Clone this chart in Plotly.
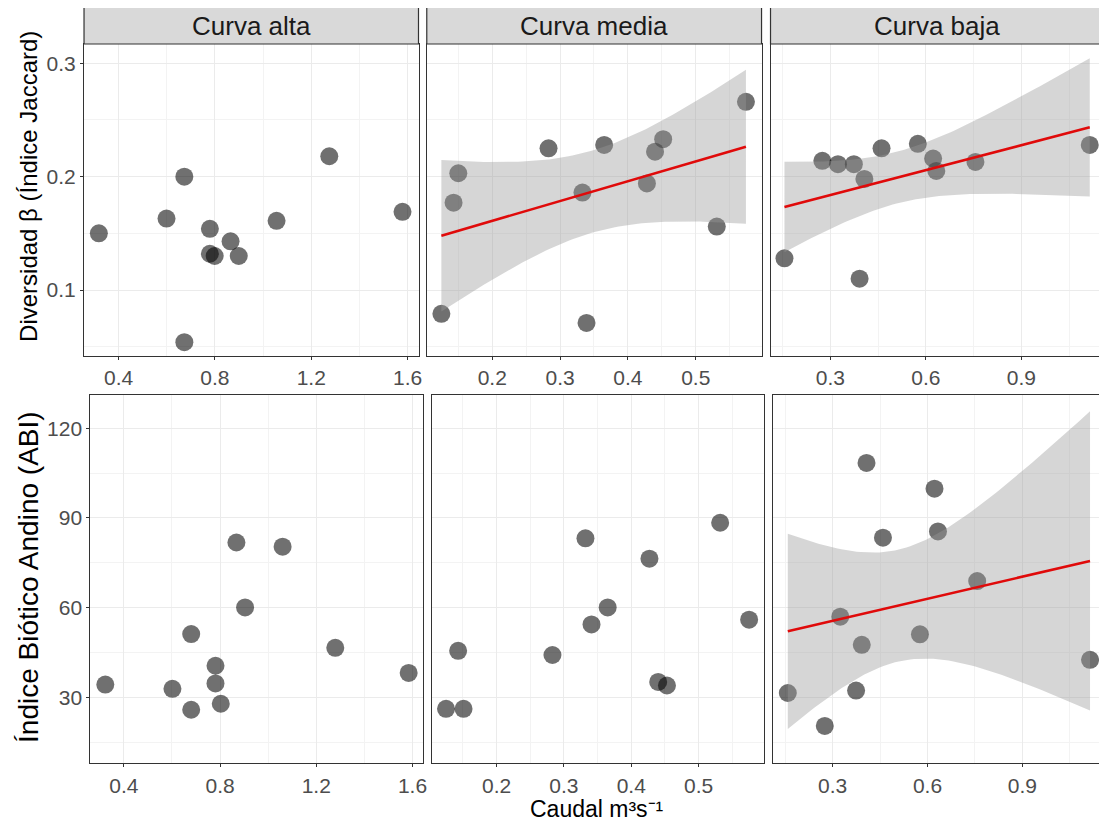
import numpy as np
import plotly.graph_objects as go

# ---------------- data ----------------
curvas = ["Curva alta", "Curva media", "Curva baja"]

alta_x_jac = [0.318, 0.599, 0.673, 0.673, 0.779, 0.779, 0.799, 0.865, 0.899, 1.056, 1.275, 1.579]
alta_jac = [0.150, 0.163, 0.200, 0.054, 0.154, 0.132, 0.130, 0.143, 0.130, 0.161, 0.218, 0.169]
media_x_jac = [0.125, 0.143, 0.150, 0.283, 0.333, 0.339, 0.365, 0.428, 0.440, 0.452, 0.531, 0.574]
media_jac = [0.079, 0.177, 0.203, 0.225, 0.186, 0.071, 0.228, 0.194, 0.222, 0.233, 0.156, 0.266]
baja_x_jac = [0.156, 0.275, 0.324, 0.374, 0.392, 0.407, 0.461, 0.575, 0.623, 0.633, 0.756, 1.115]
baja_jac = [0.128, 0.214, 0.211, 0.211, 0.110, 0.198, 0.225, 0.229, 0.216, 0.205, 0.213, 0.228]

alta_x_abi = [0.323, 0.602, 0.680, 0.680, 0.781, 0.781, 0.803, 0.868, 0.904, 1.060, 1.279, 1.584]
alta_abi = [34.3, 32.9, 51.2, 25.9, 40.6, 34.7, 27.9, 81.8, 60.1, 80.4, 46.6, 38.2]
media_x_abi = [0.125, 0.143, 0.151, 0.283, 0.332, 0.341, 0.365, 0.427, 0.440, 0.453, 0.532, 0.575]
media_abi = [26.2, 45.6, 26.2, 44.2, 83.2, 54.4, 60.1, 76.4, 35.2, 34.0, 88.4, 56.0]
baja_x_abi = [0.158, 0.275, 0.324, 0.374, 0.392, 0.407, 0.459, 0.576, 0.622, 0.633, 0.757, 1.114]
baja_abi = [31.5, 20.5, 57.0, 32.3, 47.6, 108.4, 83.4, 51.1, 99.8, 85.5, 68.9, 42.6]

# which panels show a linear fit (geom_smooth method = lm)
fit_top = [False, True, True]
fit_bottom = [False, False, True]

y_title_top = "Diversidad β (Índice Jaccard)"
y_title_bottom = "Índice Biótico Andino (ABI)"
x_title = "Caudal m³s⁻¹"

# ---------------- layout geometry (page pixels) ----------------
PAGE_W, PAGE_H = 1107, 825
OFF = 8  # default page margin around the plot div
W, H = PAGE_W - OFF, PAGE_H - OFF  # figure fits exactly inside the window
FONT = "Liberation Sans, Arial, sans-serif"

top_x_px = [(84.3, 420.0), (428.3, 764.3), (773.3, 1107.0)]
bot_x_px = [(90.7, 425.0), (433.3, 766.7), (775.7, 1107.0)]
top_y_px = (44.0, 356.0)
bot_y_px = (395.0, 763.3)
strip_px = (7.3, 44.0)

top_xr = [[0.2564, 1.6455], [0.1035, 0.597], [0.1122, 1.1566]]
bot_xr = [[0.261, 1.6456], [0.1038, 0.597], [0.1109, 1.155]]
top_yr = [0.0418, 0.317]
bot_yr = [8.0, 131.1]

x_tick = [(0.4, 0.4, 0.2), (0.2, 0.1, 0.05), (0.3, 0.3, 0.15)]

T975 = {10: 2.228139, 11: 2.200985, 12: 2.178813, 13: 2.160369}


def px_x(p):
    return min(1.0, (p - OFF) / W)


def px_y(p):
    return max(0.0, 1 - (p - OFF) / H)


fig = go.Figure()

panels_top = [(alta_x_jac, alta_jac), (media_x_jac, media_jac), (baja_x_jac, baja_jac)]
panels_bot = [(alta_x_abi, alta_abi), (media_x_abi, media_abi), (baja_x_abi, baja_abi)]


def add_panel(idx, xs, ys, fit):
    ax = "x" if idx == 1 else f"x{idx}"
    ay = "y" if idx == 1 else f"y{idx}"
    fig.add_trace(go.Scatter(
        x=xs, y=ys, mode="markers", xaxis=ax, yaxis=ay, showlegend=False,
        marker=dict(size=18, color="rgba(0,0,0,0.56)", line=dict(width=0)),
        hoverinfo="x+y"))
    if fit:
        x = np.asarray(xs, float)
        y = np.asarray(ys, float)
        n = len(x)
        b, a = np.polyfit(x, y, 1)
        resid = y - (a + b * x)
        s = np.sqrt(np.sum(resid ** 2) / (n - 2))
        sxx = np.sum((x - x.mean()) ** 2)
        xg = np.linspace(x.min(), x.max(), 80)
        yg = a + b * xg
        se = s * np.sqrt(1.0 / n + (xg - x.mean()) ** 2 / sxx)
        t = T975.get(n - 2, 2.2)
        lo = yg - t * se
        hi = yg + t * se
        fig.add_trace(go.Scatter(
            x=np.concatenate([xg, xg[::-1]]), y=np.concatenate([hi, lo[::-1]]),
            mode="lines", fill="toself", fillcolor="rgba(153,153,153,0.4)",
            line=dict(width=0), xaxis=ax, yaxis=ay, showlegend=False, hoverinfo="skip"))
        fig.add_trace(go.Scatter(
            x=xg, y=yg, mode="lines", line=dict(color="#E00A0A", width=2.6),
            xaxis=ax, yaxis=ay, showlegend=False, hoverinfo="skip"))


for i in range(3):
    add_panel(i + 1, *panels_top[i], fit_top[i])
    add_panel(i + 4, *panels_bot[i], fit_bottom[i])

layout = dict(
    width=W, height=H,
    margin=dict(l=0, r=0, t=0, b=0),
    paper_bgcolor="white", plot_bgcolor="white",
    font=dict(family=FONT, color="#4D4D4D"),
    showlegend=False,
)

common_ax = dict(
    showline=True, linecolor="#333333", linewidth=1.2, mirror=True,
    showgrid=True, gridcolor="#EBEBEB", gridwidth=1.2,
    zeroline=False, ticks="outside", ticklen=3, tickcolor="#333333", tickwidth=1.2,
    tickfont=dict(family=FONT, size=21, color="#4D4D4D"),
)

for i in range(6):
    idx = i + 1
    row_top = i < 3
    col = i % 3
    xkey = "xaxis" if idx == 1 else f"xaxis{idx}"
    ykey = "yaxis" if idx == 1 else f"yaxis{idx}"
    xanchor = "y" if idx == 1 else f"y{idx}"
    yanchor = "x" if idx == 1 else f"x{idx}"
    xp = (top_x_px if row_top else bot_x_px)[col]
    yp = top_y_px if row_top else bot_y_px
    xr = (top_xr if row_top else bot_xr)[col]
    t0, dt, mdt = x_tick[col]
    layout[xkey] = dict(
        common_ax, domain=[px_x(xp[0]), px_x(xp[1])], anchor=xanchor,
        range=xr, tickmode="linear", tick0=t0, dtick=dt,
        minor=dict(tickmode="linear", tick0=t0, dtick=mdt, showgrid=True,
                   gridcolor="#F3F3F3", gridwidth=1, ticks=""),
    )
    if row_top:
        ydt, ymdt, yr = 0.1, 0.05, top_yr
    else:
        ydt, ymdt, yr = 30, 15, bot_yr
    layout[ykey] = dict(
        common_ax, domain=[px_y(yp[1]), px_y(yp[0])], anchor=yanchor,
        range=yr, tickmode="linear", tick0=0, dtick=ydt,
        showticklabels=(col == 0),
        ticks="outside" if col == 0 else "",
        minor=dict(tickmode="linear", tick0=0, dtick=ymdt, showgrid=True,
                   gridcolor="#F3F3F3", gridwidth=1, ticks=""),
    )

fig.update_layout(**layout)

# strips (facet labels) on the top row
shapes = []
annotations = []
for col in range(3):
    x0, x1 = top_x_px[col]
    shapes.append(dict(type="rect", xref="paper", yref="paper",
                       x0=px_x(x0), x1=px_x(x1),
                       y0=px_y(strip_px[1]), y1=px_y(strip_px[0]),
                       fillcolor="#D9D9D9", line=dict(color="#333333", width=1.2),
                       layer="above"))
    annotations.append(dict(text=curvas[col], xref="paper", yref="paper",
                            x=px_x((x0 + x1) / 2), y=px_y((strip_px[0] + strip_px[1]) / 2),
                            showarrow=False, xanchor="center", yanchor="middle",
                            font=dict(family=FONT, size=26, color="#1A1A1A")))

annotations.append(dict(text=y_title_top, xref="paper", yref="paper",
                        x=px_x(28), y=px_y(186), textangle=-90, showarrow=False,
                        xanchor="center", yanchor="middle",
                        font=dict(family=FONT, size=24, color="#000000")))
annotations.append(dict(text=y_title_bottom, xref="paper", yref="paper",
                        x=px_x(28), y=px_y(577), textangle=-90, showarrow=False,
                        xanchor="center", yanchor="middle",
                        font=dict(family=FONT, size=28, color="#000000")))
annotations.append(dict(text=x_title, xref="paper", yref="paper",
                        x=px_x(599), y=px_y(809), showarrow=False,
                        xanchor="center", yanchor="middle",
                        font=dict(family=FONT, size=23, color="#000000")))

fig.update_layout(shapes=shapes, annotations=annotations)

fig.write_html("out.html")
